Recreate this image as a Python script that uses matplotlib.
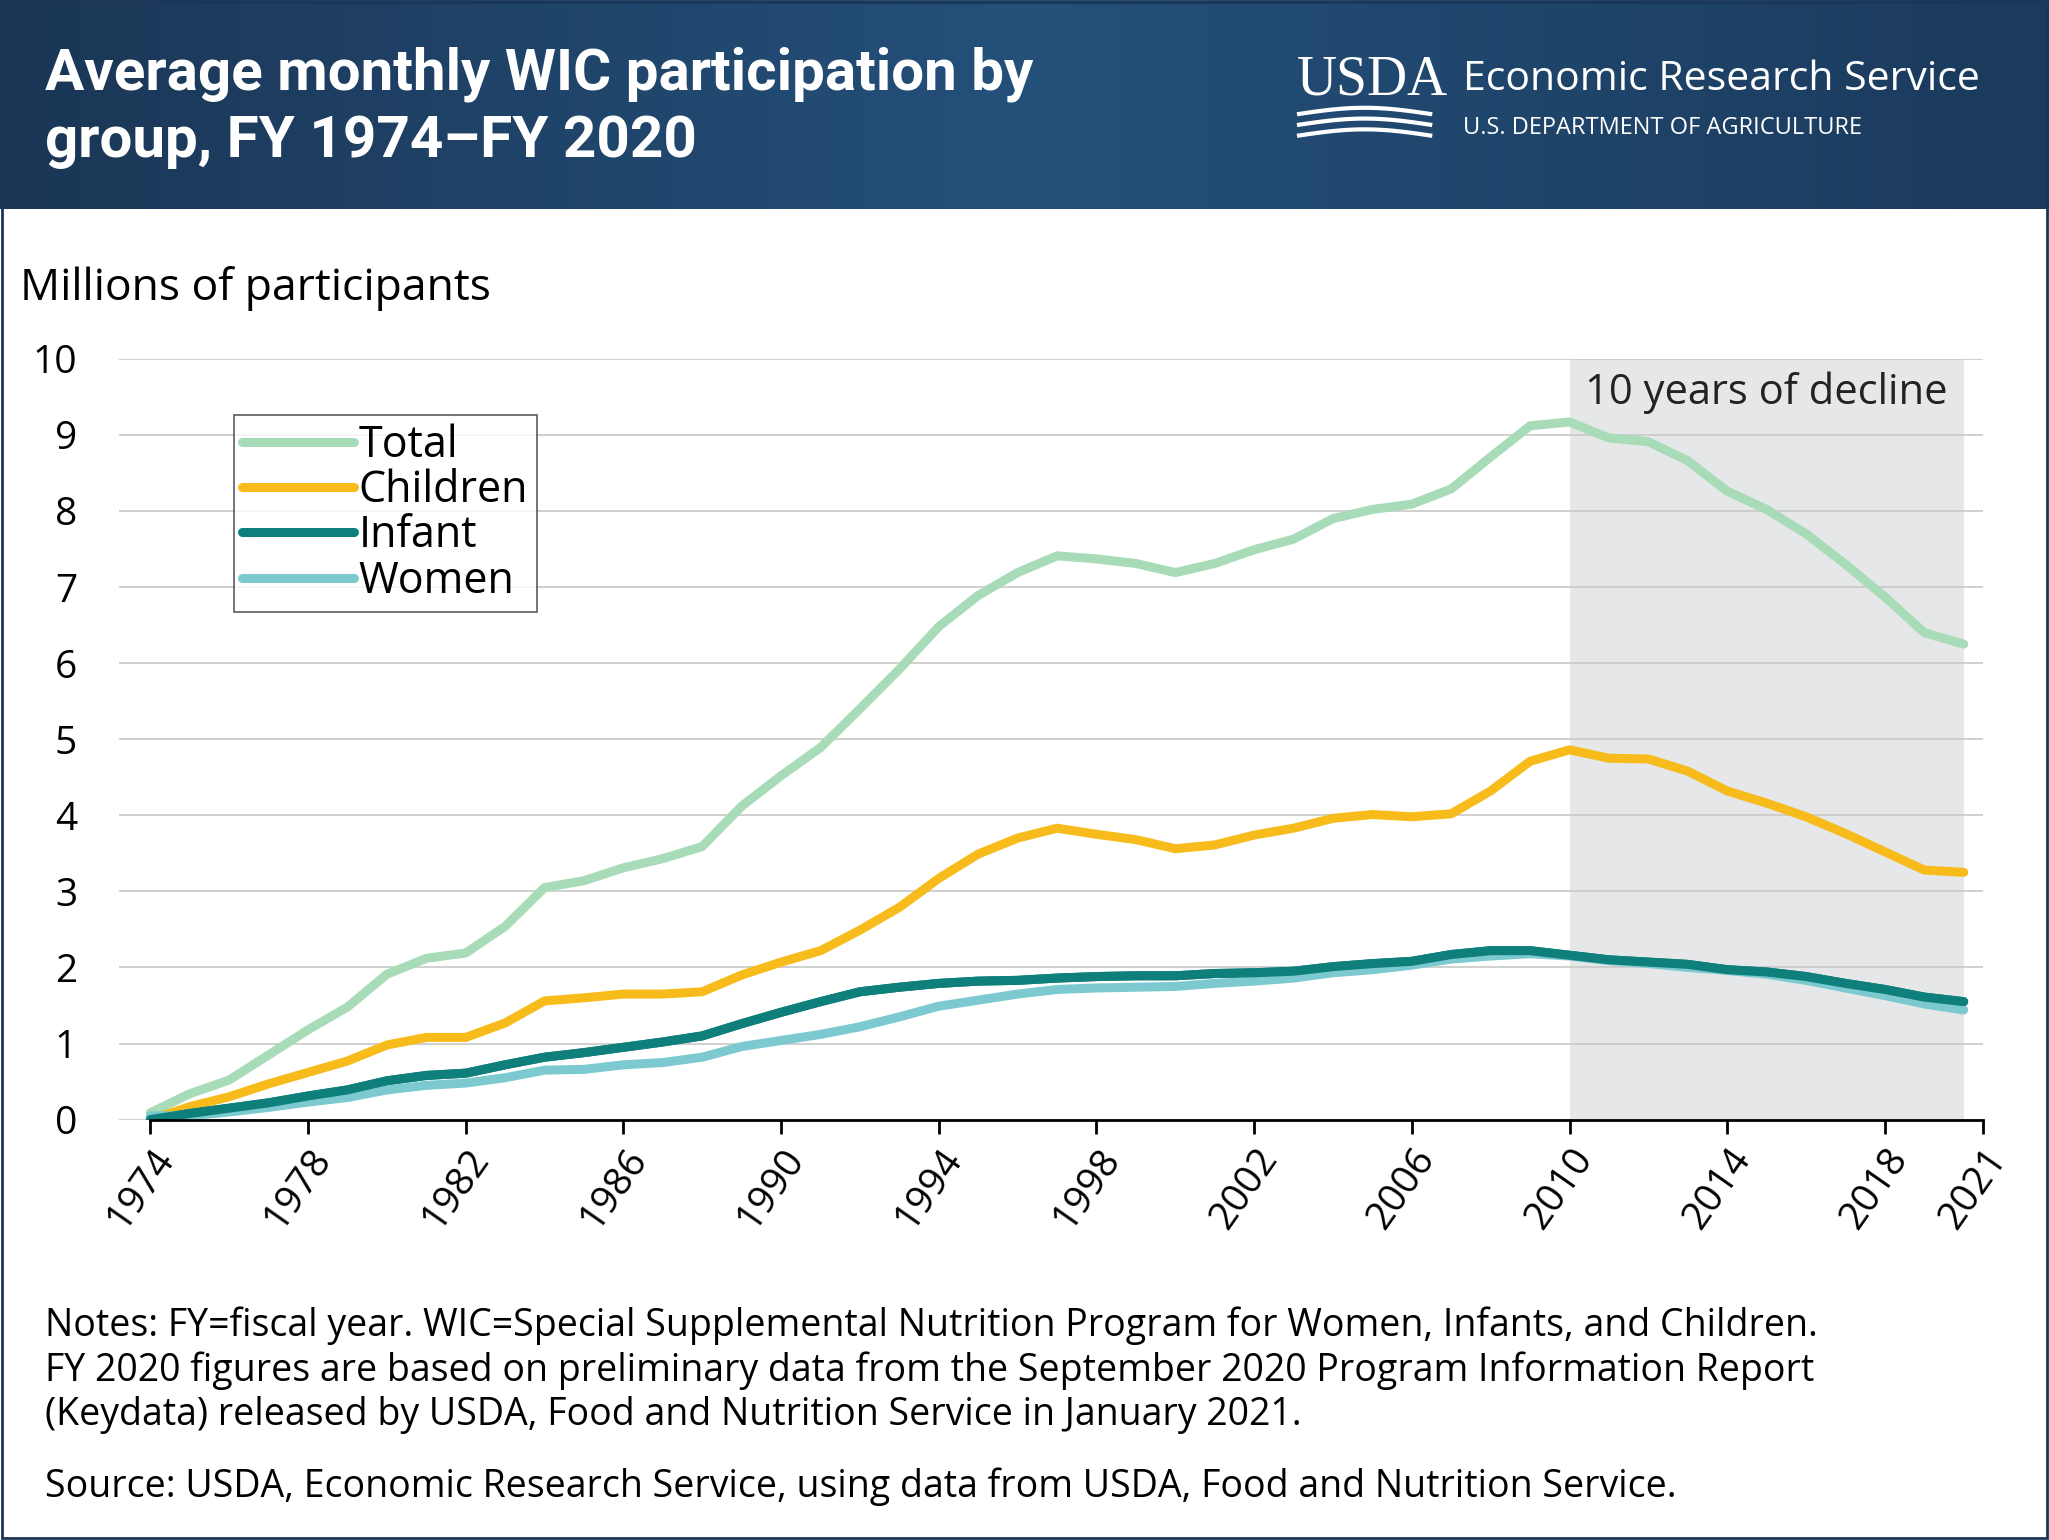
import matplotlib
matplotlib.use("Agg")
import matplotlib.pyplot as plt
import numpy as np
from matplotlib.patches import Rectangle

years = list(range(1974, 2021))
total = [0.09,0.34,0.52,0.85,1.18,1.48,1.91,2.12,2.19,2.54,
         3.05,3.14,3.31,3.43,3.59,4.12,4.52,4.89,5.40,5.92,
         6.48,6.89,7.19,7.41,7.37,7.31,7.19,7.31,7.49,7.63,
         7.90,8.02,8.09,8.29,8.71,9.12,9.17,8.96,8.91,8.66,
         8.26,8.02,7.70,7.30,6.87,6.40,6.25]
children = [0.0,0.17,0.30,0.47,0.62,0.77,0.98,1.08,1.08,1.27,
            1.56,1.60,1.65,1.65,1.68,1.90,2.07,2.22,2.49,2.79,
            3.17,3.49,3.70,3.83,3.75,3.68,3.56,3.61,3.74,3.83,
            3.96,4.01,3.98,4.02,4.32,4.71,4.86,4.75,4.74,4.58,
            4.32,4.16,3.98,3.76,3.52,3.28,3.25]
infant = [0.0,0.08,0.15,0.22,0.31,0.39,0.51,0.58,0.61,0.72,
          0.82,0.88,0.95,1.02,1.10,1.26,1.41,1.55,1.68,1.74,
          1.79,1.82,1.83,1.86,1.88,1.89,1.89,1.92,1.93,1.95,
          2.01,2.05,2.08,2.17,2.22,2.22,2.16,2.10,2.07,2.04,
          1.97,1.94,1.88,1.79,1.71,1.61,1.55]
women = [0.05,0.05,0.10,0.16,0.23,0.29,0.39,0.45,0.48,0.55,
         0.65,0.66,0.72,0.75,0.82,0.96,1.04,1.12,1.22,1.35,
         1.49,1.57,1.65,1.71,1.73,1.74,1.75,1.79,1.82,1.86,
         1.93,1.97,2.03,2.11,2.15,2.18,2.15,2.09,2.05,2.00,
         1.96,1.91,1.83,1.73,1.63,1.52,1.44]
xticks = [1974,1978,1982,1986,1990,1994,1998,2002,2006,2010,2014,2018]
yticks = list(range(0, 11))

plt.rcParams['font.family'] = ['Open Sans', 'DejaVu Sans']
fig = plt.figure(figsize=(20.49, 15.40), dpi=100)

# header band
hdr = fig.add_axes([0, 0.864, 1, 0.136])
grad = np.linspace(0, 1, 256)
hdr.imshow(np.vstack([grad, grad]), aspect='auto', extent=[0, 1, 0, 1],
           cmap=matplotlib.colors.LinearSegmentedColormap.from_list('h', ['#1b3656', '#24507a', '#1b3a5c']))
hdr.set_xlim(0, 1); hdr.set_ylim(0, 1); hdr.axis('off')
fig.text(0.022, 0.952, "Average monthly WIC participation by", color='white', fontsize=42, fontweight='bold', va='center', family=['Roboto'])
fig.text(0.022, 0.908, "group, FY 1974–FY 2020", color='white', fontsize=42, fontweight='bold', va='center', family=['Roboto'])
fig.text(0.633, 0.948, "USDA", color='white', fontsize=40, family='Liberation Serif', va='center')
fig.text(0.714, 0.948, "Economic Research Service", color='white', fontsize=29.5, va='center')
fig.text(0.714, 0.917, "U.S. DEPARTMENT OF AGRICULTURE", color='white', fontsize=17, va='center')
for i, dy in enumerate([0, 0.007, 0.014]):
    xs = np.linspace(0.634, 0.698, 50)
    ys = 0.912 + dy + 0.004*np.sin((xs-0.634)/0.064*np.pi)
    fig.add_artist(plt.Line2D(xs, ys, color='white', lw=3))

ax = fig.add_axes([0.058, 0.273, 0.91, 0.494])
ax.axvspan(2010, 2020, color='#e6e7e9', zorder=0, lw=0)
ax.text(2015, 9.55, "10 years of decline", ha='center', va='center', fontsize=30, color='#222222')
for y in yticks:
    ax.axhline(y, color='#c8c8c8', lw=1.2, zorder=0.5)
ax.plot(years, total, color='#a8dcb8', lw=6.5, label='Total', solid_capstyle='round')
ax.plot(years, children, color='#f7bc1c', lw=6.5, label='Children', solid_capstyle='round')
ax.plot(years, infant, color='#0e7f7a', lw=6.5, label='Infant', solid_capstyle='round')
ax.plot(years, women, color='#7ccad0', lw=6.5, label='Women', solid_capstyle='round')
ax.plot(years, infant, color='#0e7f7a', lw=6.5, solid_capstyle='round')
ax.set_xlim(1973.2, 2020.5)
ax.set_ylim(0, 10)
ax.set_xticks(xticks + [2020.5])
ax.set_xticklabels([str(t) for t in xticks] + ['2021'], rotation=55, ha='right', rotation_mode='anchor', fontsize=28)
ax.set_yticks(yticks)
ax.set_yticklabels([str(t) for t in yticks], fontsize=28)
for s in ['top', 'right', 'left']:
    ax.spines[s].set_visible(False)
ax.spines['bottom'].set_linewidth(2)
ax.tick_params(axis='x', length=10, width=2, pad=6)
ax.tick_params(axis='y', length=0, pad=30)
ax.spines['bottom'].set_bounds(1974, 2020.5)
leg = ax.legend(loc='upper left', bbox_to_anchor=(0.05, 0.955), fontsize=31, frameon=True, fancybox=False,
                edgecolor='#333333', handlelength=2.6, handletextpad=0.1, labelspacing=0.02, borderpad=0.2)
leg.get_frame().set_linewidth(1.2)
fig.text(0.010, 0.805, "Millions of participants", fontsize=32)

notes = ("Notes: FY=fiscal year. WIC=Special Supplemental Nutrition Program for Women, Infants, and Children.\n"
         "FY 2020 figures are based on preliminary data from the September 2020 Program Information Report\n"
         "(Keydata) released by USDA, Food and Nutrition Service in January 2021.")
fig.text(0.022, 0.152, notes, fontsize=27, va='top', linespacing=1.22)
fig.text(0.022, 0.022, "Source: USDA, Economic Research Service, using data from USDA, Food and Nutrition Service.",
         fontsize=27, va='bottom')
fig.add_artist(Rectangle((0.001, 0.001), 0.998, 0.998, fill=False, ec='#1b3656', lw=2, transform=fig.transFigure))
fig.savefig('out.png', dpi=100)
